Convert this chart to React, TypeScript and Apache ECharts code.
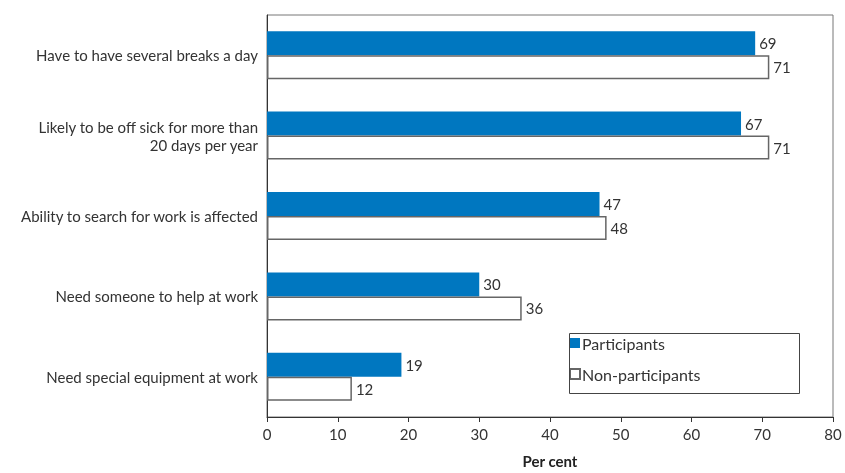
import React, { useEffect, useRef } from "react";
import * as echarts from "echarts";

const categories = [
  "Have to have several breaks a day",
  "Likely to be off sick for more than\n20 days per year",
  "Ability to search for work is affected",
  "Need someone to help at work",
  "Need special equipment at work",
];
const participants = [69, 67, 47, 30, 19];
const nonParticipants = [71, 71, 48, 36, 12];
const xTicks = [0, 10, 20, 30, 40, 50, 60, 70, 80];

const FONT = "Lato, 'Open Sans', sans-serif";

export default function App() {
  const ref = useRef<HTMLDivElement>(null);
  useEffect(() => {
    if (!ref.current) return;
    const chart = echarts.init(ref.current, undefined, { renderer: "svg" });
    const cats = [...categories].reverse();
    const p = [...participants].reverse();
    const np = [...nonParticipants].reverse();
    chart.setOption({
      animation: false,
      textStyle: { fontFamily: FONT },
      grid: {
        left: 267,
        right: 12,
        top: 15,
        bottom: 48,
        show: true,
        borderColor: "#777",
        borderWidth: 1,
        containLabel: false,
      },
      legend: {
        orient: "vertical",
        left: 569,
        top: 335,
        itemWidth: 10,
        itemHeight: 10,
        itemGap: 15,
        padding: 0,
        textStyle: { fontSize: 16, color: "#333", fontFamily: FONT, padding: [0, 0, 0, -3] },
        data: [
          { name: "Participants", icon: "rect" },
          { name: "Non-participants", icon: "rect" },
        ],
      },
      graphic: [
        {
          type: "rect",
          left: 567,
          top: 331,
          shape: { width: 230, height: 60 },
          style: { fill: "none", stroke: "#444", lineWidth: 1 },
          z: 10,
        },
      ],
      xAxis: {
        type: "value",
        min: xTicks[0],
        max: xTicks[xTicks.length - 1],
        interval: 10,
        name: "Per cent",
        nameLocation: "middle",
        nameGap: 36,
        nameTextStyle: { fontSize: 15, fontWeight: "bold", color: "#222", fontFamily: FONT },
        axisLine: { show: true, lineStyle: { color: "#333", width: 1 } },
        axisTick: { show: true, length: 5, lineStyle: { color: "#333" } },
        axisLabel: { fontSize: 15, color: "#333", margin: 9, fontFamily: FONT },
        splitLine: { show: false },
      },
      yAxis: {
        type: "category",
        data: cats,
        axisLine: { show: true, lineStyle: { color: "#333" } },
        axisTick: { show: false },
        axisLabel: { fontSize: 15, color: "#333", margin: 9, lineHeight: 18, fontFamily: FONT },
      },
      series: [
        {
          name: "Participants",
          type: "bar",
          data: p,
          barWidth: 24,
          barGap: "0%",
          itemStyle: { color: "#0077c0" },
          label: {
            show: true,
            position: "right",
            distance: 4,
            fontSize: 15,
            color: "#333",
            fontFamily: FONT,
          },
        },
        {
          name: "Non-participants",
          type: "bar",
          data: np,
          barWidth: 24,
          barGap: "0%",
          itemStyle: { color: "#fff", borderColor: "#666", borderWidth: 1.5 },
          label: {
            show: true,
            position: "right",
            distance: 4,
            fontSize: 15,
            color: "#333",
            fontFamily: FONT,
          },
        },
      ],
    });
    return () => chart.dispose();
  }, []);
  return (
    <div
      ref={ref}
      style={{ width: 845, height: 473, position: "fixed", left: 0, top: 0 }}
    />
  );
}
